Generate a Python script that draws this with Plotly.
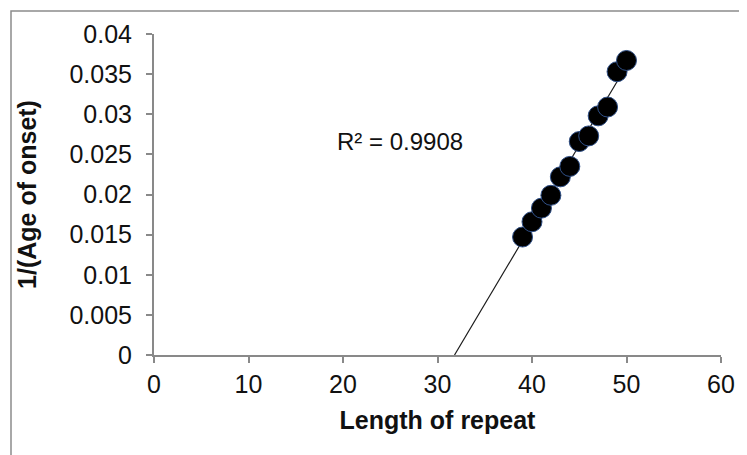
import numpy as np
import plotly.graph_objects as go

repeat_length = [39, 40, 41, 42, 43, 44, 45, 46, 47, 48, 49, 50]
inv_age_onset = [0.0147, 0.0166, 0.0183, 0.0199, 0.0222, 0.0235,
                 0.0266, 0.0273, 0.0298, 0.0309, 0.0353, 0.0367]
x_ticks = [0, 10, 20, 30, 40, 50, 60]
y_ticks = [0, 0.005, 0.01, 0.015, 0.02, 0.025, 0.03, 0.035, 0.04]
r2_label = "R² = 0.9908"

xs = np.array(repeat_length, dtype=float)
ys = np.array(inv_age_onset, dtype=float)
m, b = np.polyfit(xs, ys, 1)
x0 = -b / m
x1 = xs.max()
fit_x = [x0, x1]
fit_y = [m * x0 + b, m * x1 + b]

FONT = "Liberation Sans, Arial, sans-serif"
AX = "#898989"

fig = go.Figure()
fig.add_trace(go.Scatter(x=fit_x, y=fit_y, mode="lines",
                         line=dict(color="#1a1a1a", width=1.2),
                         hoverinfo="skip", showlegend=False))
fig.add_trace(go.Scatter(x=repeat_length, y=inv_age_onset, mode="markers",
                         marker=dict(size=20, color="black",
                                     line=dict(color="#2f4f86", width=1)),
                         showlegend=False))

fig.add_annotation(x=26, y=0.0266, text=r2_label, showarrow=False,
                   font=dict(family=FONT, size=24, color="#111111"))

# page has an 8px body margin, so the figure is drawn 8px in from the corner
W, H = 739, 447
l, r, t, bm = 146, 26, 26, 100
pw, ph = W - l - r, H - t - bm
def px2paper_x(p): return (p - l) / pw
def px2paper_y(p): return (H - bm - p) / ph
fig.add_shape(type="rect", xref="paper", yref="paper",
              x0=px2paper_x(3), x1=px2paper_x(770),
              y0=px2paper_y(480), y1=px2paper_y(3),
              line=dict(color="#8c8c8c", width=1.5), layer="below")

fig.update_layout(
    width=W, height=H,
    margin=dict(l=l, r=r, t=t, b=bm, autoexpand=False),
    paper_bgcolor="white", plot_bgcolor="white",
    font=dict(family=FONT, color="#111111"),
    xaxis=dict(range=[0, 60], tickvals=x_ticks, showgrid=False, zeroline=False,
               showline=True, linecolor=AX, linewidth=2,
               ticks="outside", ticklen=6, tickcolor=AX, tickwidth=2,
               tickfont=dict(size=25, family=FONT),
               title=dict(text="<b>Length of repeat</b>",
                          font=dict(size=25, family=FONT), standoff=14)),
    yaxis=dict(range=[0, 0.04], tickvals=y_ticks, showgrid=False, zeroline=False,
               showline=True, linecolor=AX, linewidth=2,
               ticks="outside", ticklen=6, tickcolor=AX, tickwidth=2,
               tickfont=dict(size=25, family=FONT), ticklabelstandoff=9,
               title=dict(text="<b>1/(Age of onset)</b>",
                          font=dict(size=25, family=FONT), standoff=26)),
)

fig.write_html("out.html")
